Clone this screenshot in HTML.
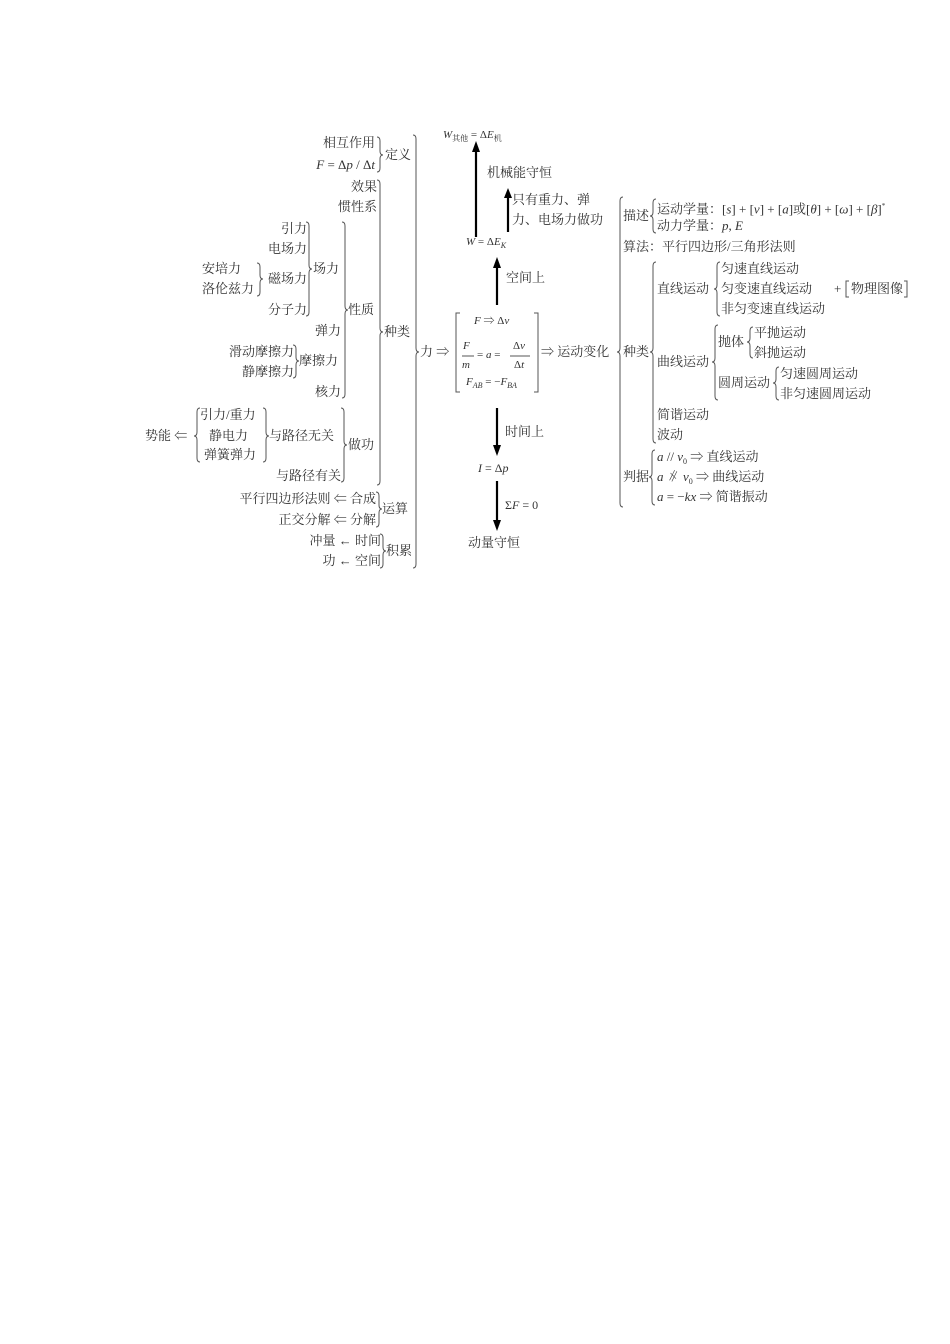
<!DOCTYPE html>
<html><head><meta charset="utf-8"><style>
body{margin:0;width:950px;height:1344px;background:#fff;position:relative;overflow:hidden;font-family:"Liberation Serif","Noto Serif CJK SC","Noto Sans CJK SC",serif;color:#333;}
.t{position:absolute;font-size:13px;line-height:16px;white-space:nowrap;}
.r{text-align:right;}
i{font-style:italic}
sub{font-size:8px;vertical-align:-3px}
svg{position:absolute;left:0;top:0}
</style></head><body>
<svg width="950" height="1344" fill="none" stroke="#555" stroke-width="1">
<path d="M377,137 Q380,137 380,141 L380,151 Q380,155 383,155 Q380,155 380,159 L380,168 Q380,172 377,172"/>
<path d="M377,180 Q380,180 380,184 L380,328 Q380,332 383,332 Q380,332 380,336 L380,481 Q380,485 377,485"/>
<path d="M306,222 Q309,222 309,226 L309,265 Q309,269 312,269 Q309,269 309,273 L309,312 Q309,316 306,316"/>
<path d="M257,263 Q260,263 260,267 L260,275 Q260,279 263,279 Q260,279 260,283 L260,292 Q260,296 257,296"/>
<path d="M342,222 Q345,222 345,226 L345,306 Q345,310 348,310 Q345,310 345,314 L345,394 Q345,398 342,398"/>
<path d="M293,345 Q296,345 296,349 L296,357 Q296,361 299,361 Q296,361 296,365 L296,374 Q296,378 293,378"/>
<path d="M263,408 Q266,408 266,412 L266,432 Q266,436 269,436 Q266,436 266,440 L266,458 Q266,462 263,462"/>
<path d="M341,408 Q344,408 344,412 L344,441 Q344,445 347,445 Q344,445 344,449 L344,478 Q344,482 341,482"/>
<path d="M376,492 Q379,492 379,496 L379,505 Q379,509 382,509 Q379,509 379,513 L379,523 Q379,527 376,527"/>
<path d="M380,534 Q383,534 383,538 L383,547 Q383,551 386,551 Q383,551 383,555 L383,564 Q383,568 380,568"/>
<path d="M413,135 Q416,135 416,139 L416,348 Q416,352 419,352 Q416,352 416,356 L416,564 Q416,568 413,568"/>
<path d="M200,408 Q197,408 197,412 L197,432 Q197,436 194,436 Q197,436 197,440 L197,458 Q197,462 200,462"/>
<path d="M623,197 Q620,197 620,201 L620,348 Q620,352 617,352 Q620,352 620,356 L620,503 Q620,507 623,507"/>
<path d="M656,199 Q653,199 653,203 L653,212 Q653,216 650,216 Q653,216 653,220 L653,229 Q653,233 656,233"/>
<path d="M656,262 Q653,262 653,266 L653,348 Q653,352 650,352 Q653,352 653,356 L653,439 Q653,443 656,443"/>
<path d="M720,262 Q717,262 717,266 L717,285 Q717,289 714,289 Q717,289 717,293 L717,312 Q717,316 720,316"/>
<path d="M718,325 Q715,325 715,329 L715,358 Q715,362 712,362 Q715,362 715,366 L715,396 Q715,400 718,400"/>
<path d="M753,327 Q750,327 750,331 L750,338 Q750,342 747,342 Q750,342 750,346 L750,354 Q750,358 753,358"/>
<path d="M779,367 Q776,367 776,371 L776,379 Q776,383 773,383 Q776,383 776,387 L776,396 Q776,400 779,400"/>
<path d="M655,450 Q652,450 652,454 L652,473 Q652,477 649,477 Q652,477 652,481 L652,501 Q652,505 655,505"/>
<path d="M460,313 L456,313 L456,392 L460,392"/>
<path d="M534,313 L538,313 L538,392 L534,392"/>
<path d="M462,356 L474,356 M510,356 L530,356"/>
<path d="M849,281 L846,281 L846,297 L849,297 M904,281 L907,281 L907,297 L904,297"/>
<g stroke="#000" stroke-width="2.2">
<path d="M476,237 L476,150"/><path d="M508,232 L508,196"/><path d="M497,305 L497,266"/><path d="M497,408 L497,447"/><path d="M497,481 L497,522"/>
</g>
<g fill="#000" stroke="none">
<path d="M472,152 L476,141 L480,152Z"/><path d="M504,198 L508,188 L512,198Z"/><path d="M493,268 L497,257 L501,268Z"/><path d="M493,445 L497,456 L501,445Z"/><path d="M493,520 L497,531 L501,520Z"/>
</g>
</svg>

<div class="t r" style="right:575px;top:135px">相互作用</div>
<div class="t r" style="right:575px;top:157px"><i>F</i> = Δ<i>p</i> / Δ<i>t</i></div>
<div class="t" style="left:385px;top:147px">定义</div>
<div class="t r" style="right:573px;top:179px">效果</div>
<div class="t r" style="right:573px;top:199px">惯性系</div>
<div class="t" style="left:384px;top:324px">种类</div>
<div class="t r" style="right:643px;top:221px">引力</div>
<div class="t r" style="right:643px;top:241px">电场力</div>
<div class="t r" style="right:643px;top:271px">磁场力</div>
<div class="t r" style="right:643px;top:302px">分子力</div>
<div class="t" style="left:202px;top:261px">安培力</div>
<div class="t" style="left:202px;top:281px">洛伦兹力</div>
<div class="t" style="left:313px;top:261px">场力</div>
<div class="t" style="left:348px;top:302px">性质</div>
<div class="t r" style="right:609px;top:323px">弹力</div>
<div class="t r" style="right:656px;top:344px">滑动摩擦力</div>
<div class="t r" style="right:656px;top:364px">静摩擦力</div>
<div class="t" style="left:299px;top:353px">摩擦力</div>
<div class="t r" style="right:609px;top:384px">核力</div>
<div class="t" style="left:145px;top:428px">势能 ⇐</div>
<div class="t" style="left:200px;top:407px">引力/重力</div>
<div class="t" style="left:209px;top:428px">静电力</div>
<div class="t" style="left:204px;top:447px">弹簧弹力</div>
<div class="t" style="left:269px;top:428px">与路径无关</div>
<div class="t r" style="right:609px;top:468px">与路径有关</div>
<div class="t" style="left:348px;top:437px">做功</div>
<div class="t r" style="right:574px;top:491px">平行四边形法则 ⇐ 合成</div>
<div class="t r" style="right:574px;top:512px">正交分解 ⇐ 分解</div>
<div class="t" style="left:382px;top:501px">运算</div>
<div class="t r" style="right:569px;top:533px">冲量 ← 时间</div>
<div class="t r" style="right:569px;top:553px">功 ← 空间</div>
<div class="t" style="left:386px;top:543px">积累</div>
<div class="t" style="left:420px;top:344px">力 ⇒</div>

<div class="t" style="left:443px;top:127px;font-size:11px"><i>W</i><sub>其他</sub> = Δ<i>E</i><sub>机</sub></div>
<div class="t" style="left:487px;top:165px">机械能守恒</div>
<div class="t" style="left:512px;top:192px">只有重力、弹</div>
<div class="t" style="left:512px;top:212px">力、电场力做功</div>
<div class="t" style="left:466px;top:234px;font-size:11px"><i>W</i> = Δ<i>E</i><sub><i>K</i></sub></div>
<div class="t" style="left:506px;top:270px">空间上</div>
<div class="t" style="left:474px;top:313px;font-size:11px"><i>F</i> ⇒ Δ<i>v</i></div>
<div class="t" style="left:463px;top:338px;font-size:11px"><i>F</i></div>
<div class="t" style="left:462px;top:357px;font-size:11px"><i>m</i></div>
<div class="t" style="left:477px;top:347px;font-size:11px">= <i>a</i> =</div>
<div class="t" style="left:513px;top:338px;font-size:11px">Δ<i>v</i></div>
<div class="t" style="left:514px;top:357px;font-size:11px">Δ<i>t</i></div>
<div class="t" style="left:466px;top:374px;font-size:11px"><i>F<sub>AB</sub></i> = −<i>F<sub>BA</sub></i></div>
<div class="t" style="left:541px;top:344px">⇒ 运动变化</div>
<div class="t" style="left:505px;top:424px">时间上</div>
<div class="t" style="left:478px;top:460px;font-size:12px"><i>I</i> = Δ<i>p</i></div>
<div class="t" style="left:505px;top:497px;font-size:12px">Σ<i>F</i> = 0</div>
<div class="t" style="left:468px;top:535px">动量守恒</div>

<div class="t" style="left:623px;top:344px">种类</div>
<div class="t" style="left:623px;top:208px">描述</div>
<div class="t" style="left:657px;top:198px">运动学量：[<i>s</i>] + [<i>v</i>] + [<i>a</i>]或[<i>θ</i>] + [<i>ω</i>] + [<i>β</i>]<sup style="font-size:7px">*</sup></div>
<div class="t" style="left:657px;top:218px">动力学量：<i>p</i>, <i>E</i></div>
<div class="t" style="left:623px;top:239px">算法：平行四边形/三角形法则</div>
<div class="t" style="left:657px;top:281px">直线运动</div>
<div class="t" style="left:721px;top:261px">匀速直线运动</div>
<div class="t" style="left:721px;top:281px">匀变速直线运动</div>
<div class="t" style="left:721px;top:301px">非匀变速直线运动</div>
<div class="t" style="left:834px;top:281px">+</div>
<div class="t" style="left:851px;top:281px">物理图像</div>
<div class="t" style="left:657px;top:354px">曲线运动</div>
<div class="t" style="left:718px;top:334px">抛体</div>
<div class="t" style="left:754px;top:325px">平抛运动</div>
<div class="t" style="left:754px;top:345px">斜抛运动</div>
<div class="t" style="left:718px;top:375px">圆周运动</div>
<div class="t" style="left:780px;top:366px">匀速圆周运动</div>
<div class="t" style="left:780px;top:386px">非匀速圆周运动</div>
<div class="t" style="left:657px;top:407px">简谐运动</div>
<div class="t" style="left:657px;top:427px">波动</div>
<div class="t" style="left:623px;top:469px">判据</div>
<div class="t" style="left:657px;top:449px"><i>a</i> // <i>v</i><sub>0</sub> ⇒ 直线运动</div>
<div class="t" style="left:657px;top:469px"><i>a</i> ∦ <i>v</i><sub>0</sub> ⇒ 曲线运动</div>
<div class="t" style="left:657px;top:489px"><i>a</i> = −<i>kx</i> ⇒ 简谐振动</div>
</body></html>
